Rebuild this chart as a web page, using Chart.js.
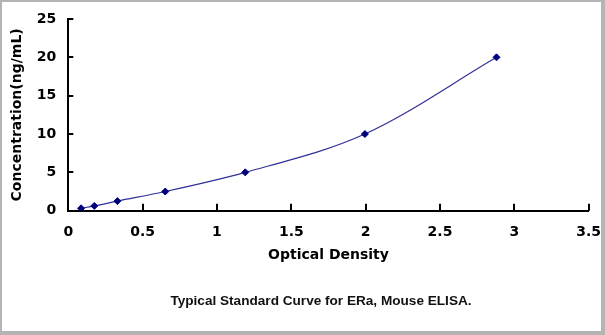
<!DOCTYPE html>
<html>
<head>
<meta charset="utf-8">
<script src="https://cdn.jsdelivr.net/npm/chart.js@4/dist/chart.umd.min.js"></script>
<style>
    body { margin: 0; background: #b4b4b4; width: 605px; height: 335px; overflow: hidden; }
    #frame { position: absolute; left: 2px; top: 2px; width: 599px; height: 329px; background: #fff; }
    #caption { position: absolute; left: 0; top: 291px; width: 638px; text-align: center;
        font: bold 13.6px "Liberation Sans", Arial, sans-serif; color: #111; }
</style>
</head>
<body>
<div id="frame">
    <canvas id="curveChart" width="599" height="329"></canvas>
    <div id="caption">Typical Standard Curve for ERa, Mouse ELISA.</div>
</div>
<script>
// Data
const opticalDensity = [0.086, 0.175, 0.33, 0.652, 1.19, 1.995, 2.88];
const concentration = [0.312, 0.625, 1.25, 2.5, 5, 10, 20];
const xTicks = [0, 0.5, 1, 1.5, 2, 2.5, 3, 3.5];
const yTicks = [0, 5, 10, 15, 20, 25];

const points = opticalDensity.map((x, i) => ({ x: x, y: concentration[i] }));
const tickFont = { family: '"DejaVu Sans", sans-serif', size: 14, weight: 'bold' };
const titleFont = { family: '"DejaVu Sans", sans-serif', size: 14, weight: 'bold' };

// small tick marks pointing into the plot
const innerTicks = {
    id: 'innerTicks',
    afterDraw(chart) {
        const c = chart.ctx;
        const xs = chart.scales.x;
        const ys = chart.scales.y;
        c.save();
        c.strokeStyle = '#000';
        c.lineWidth = 2;
        c.beginPath();
        xTicks.forEach(v => {
            const px = Math.round(xs.getPixelForValue(v));
            c.moveTo(px, ys.bottom);
            c.lineTo(px, ys.bottom - 7);
        });
        yTicks.forEach(v => {
            const py = Math.round(ys.getPixelForValue(v));
            c.moveTo(xs.left, py);
            c.lineTo(xs.left + 5, py);
        });
        c.stroke();
        c.restore();
    }
};

new Chart(document.getElementById('curveChart'), {
    type: 'scatter',
    data: {
        datasets: [{
            data: points,
            showLine: true,
            borderColor: '#30309a',
            borderWidth: 1.2,
            cubicInterpolationMode: 'monotone',
            pointStyle: 'rectRot',
            pointRadius: 3.5,
            pointBackgroundColor: '#00007a',
            pointBorderColor: '#00007a',
            pointBorderWidth: 1
        }]
    },
    options: {
        responsive: false,
        animation: false,
        layout: { padding: { top: 17, right: 12.3, left: 0, bottom: 0 } },
        plugins: {
            legend: { display: false },
            tooltip: { enabled: false }
        },
        scales: {
            x: {
                type: 'linear',
                min: 0,
                max: 3.5,
                afterFit: s => { s.height = 120.3; s.paddingLeft = 0; s.paddingRight = 0; },
                afterBuildTicks: s => { s.ticks = xTicks.map(v => ({ value: v })); },
                grid: { display: false },
                border: { color: '#000', width: 2 },
                ticks: { color: '#000', font: tickFont, padding: 5, maxRotation: 0,
                    callback: v => String(v) },
                title: {
                    display: true,
                    text: 'Optical Density',
                    color: '#000',
                    font: titleFont,
                    padding: { top: 0, bottom: 67 }
                }
            },
            y: {
                min: 0,
                max: 25,
                afterFit: s => { s.width = 66.3; s.paddingTop = 0; s.paddingBottom = 0; },
                afterBuildTicks: s => { s.ticks = yTicks.map(v => ({ value: v })); },
                grid: { display: false },
                border: { color: '#000', width: 2 },
                ticks: { color: '#000', font: tickFont, padding: 4,
                    callback: v => String(v) },
                title: {
                    display: true,
                    text: 'Concentration(ng/mL)',
                    color: '#000',
                    font: titleFont,
                    padding: { top: 7, bottom: 0 }
                }
            }
        }
    },
    plugins: [innerTicks]
});
</script>
</body>
</html>
